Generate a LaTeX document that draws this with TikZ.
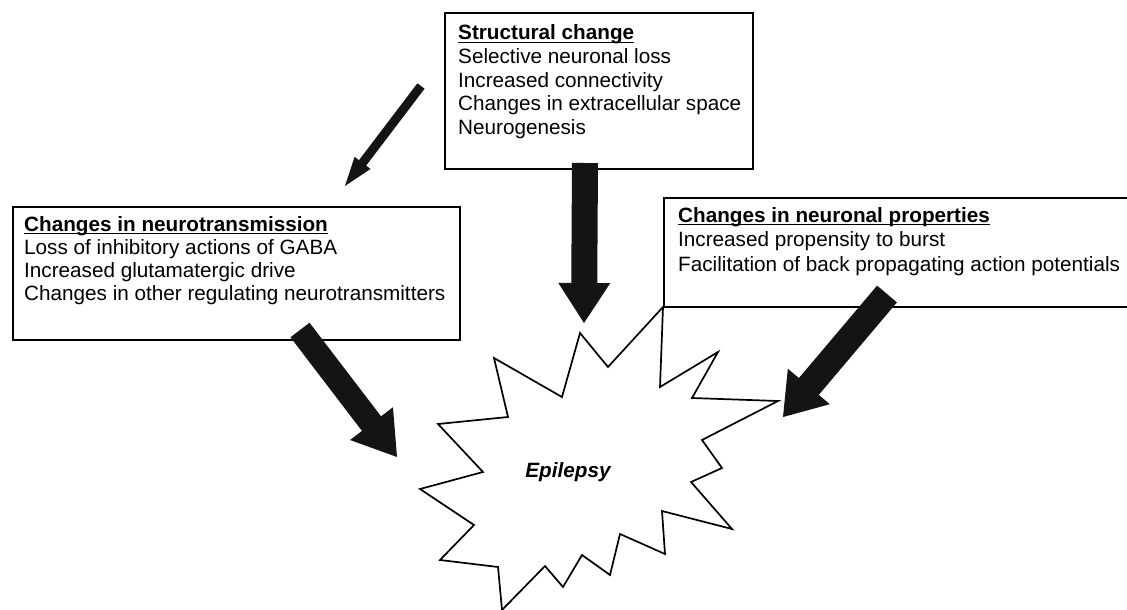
\documentclass[tikz,border=0pt]{standalone}
\usepackage{fontspec}
\setmainfont{Liberation Sans}
\usetikzlibrary{calc}
\newcommand\ulin[1]{\leavevmode\setbox0=\hbox{#1}\rlap{\rule[-3pt]{\wd0}{1.4pt}}\box0}
\newcommand\boxtext[3]{\parbox[t]{#1}{\fontsize{20.7pt}{#2}\selectfont\raggedright #3}}
% start, end, half shaft width, half head width, head length
\newcommand\fatarrow[5]{%
  \coordinate (hb) at ($(#2)!#5!(#1)$);
  \fill[arrowfill] ($(#1)!#3!90:(#2)$) -- ($(hb)!#3!90:(#2)$) -- ($(hb)!#4!90:(#2)$) -- (#2)
    -- ($(hb)!#4!-90:(#2)$) -- ($(hb)!#3!-90:(#2)$) -- ($(#1)!#3!-90:(#2)$) -- cycle;}
\tikzset{
  boxframe/.style={draw=black, line width=1.8pt, fill=white, rectangle, inner sep=0pt, anchor=north west},
  boxtxt/.style={anchor=base west, inner sep=0pt, align=left},
  arrowfill/.style={fill=black!92},
  starline/.style={draw=black, line width=1.7pt, line join=miter, fill=white},
}
\begin{document}
\begin{tikzpicture}[x=1pt,y=-1pt]
\useasboundingbox (0,0) rectangle (1127,610);
\fill[white] (0,0) rectangle (1127,610);

% boxes
\node[boxframe, minimum width=308, minimum height=156] (sc) at (444,12) {};
\node[boxframe, minimum width=447, minimum height=133] (nt) at (12,206) {};
\coordinate (np1) at (1130,198);
\coordinate (np2) at (664,198);
\coordinate (np3) at (664,307);
\coordinate (np4) at (1130,307);
\draw[line width=1.8pt] (np1) -- (np2) -- (np3) -- (np4);

% texts
\node[boxtxt] (sct) at (458,40) {\boxtext{300pt}{23.6pt}{\ulin{\textbf{Structural change}}\\
Selective neuronal loss\\
Increased connectivity\\
Changes in extracellular space\\
Neurogenesis}};
\node[boxtxt] (ntt) at (24,231) {\boxtext{440pt}{23.2pt}{\ulin{\textbf{Changes in neurotransmission}}\\
Loss of inhibitory actions of GABA\\
Increased glutamatergic drive\\
Changes in other regulating neurotransmitters}};
\node[boxtxt] (npt) at (678,222) {\boxtext{450pt}{24.5pt}{\ulin{\textbf{Changes in neuronal properties}}\\
Increased propensity to burst\\
Facilitation of back propagating action potentials}};

% star
\draw[starline] (580,333) -- (608,367) -- (663,307) -- (660,387) -- (718,352) -- (692,398)
  -- (778,401) -- (702,440) -- (722,468) -- (691,482) -- (732,529) -- (662,511)
  -- (665,554) -- (620,534) -- (610,575) -- (582,555) -- (563,587) -- (545,566)
  -- (502,610) -- (498,567) -- (440,560) -- (474,525) -- (420,489) -- (483,472)
  -- (438,424) -- (508,417) -- (494,358) -- (562,397) -- cycle;
\node[font=\fontsize{20.7pt}{23.5pt}\selectfont\bfseries\itshape] (ep) at (568,472) {Epilepsy};

% arrows
\coordinate (a1s) at (421,86);   \coordinate (a1e) at (345,186);
\coordinate (a2s) at (300,330);  \coordinate (a2e) at (397,457);
\coordinate (a3s) at (585,163);  \coordinate (a3e) at (584,323);
\coordinate (a4s) at (887,294);  \coordinate (a4e) at (783,417);
\fatarrow{a1s}{a1e}{4.5pt}{10pt}{29pt}
\fatarrow{a2s}{a2e}{12pt}{27pt}{42pt}
\fatarrow{a3s}{a3e}{13pt}{26pt}{40pt}
\fatarrow{a4s}{a4e}{13pt}{27.5pt}{40pt}
\end{tikzpicture}
\end{document}
